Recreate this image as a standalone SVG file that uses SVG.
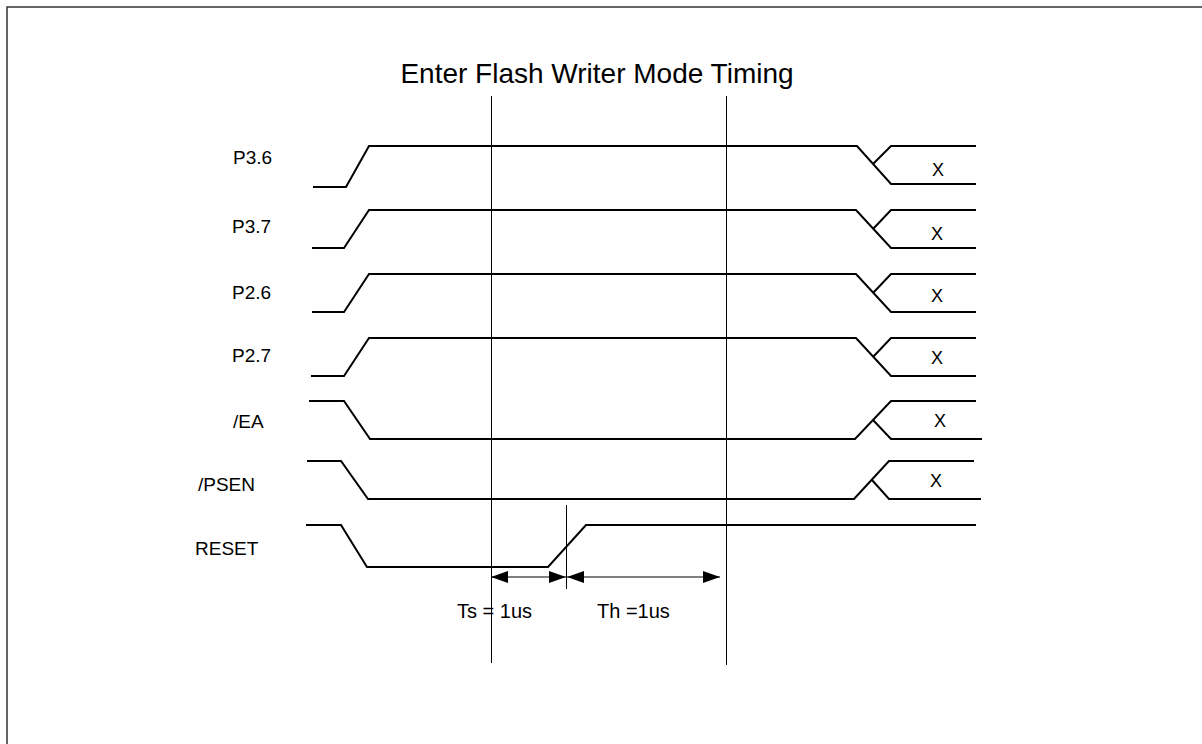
<svg xmlns="http://www.w3.org/2000/svg" width="1202" height="744" viewBox="0 0 1202 744">
<style>
.t{font-family:"Liberation Sans",Arial,sans-serif;fill:#000}
.lbl{font-size:19px}
.tm{font-size:20px}
.x{font-size:18px;text-anchor:middle}
.w{fill:none;stroke:#000;stroke-width:2;stroke-linejoin:miter}
.v{fill:none;stroke:#000;stroke-width:1}
</style>
<defs>
<marker id="ah" viewBox="0 0 17 12" refX="17" refY="6" markerWidth="17" markerHeight="12" markerUnits="userSpaceOnUse" orient="auto-start-reverse">
<path d="M0,0 L17,6 L0,12 Z" fill="#000"/>
</marker>
</defs>
<rect x="7" y="7" width="1200" height="745" fill="#fff" stroke="#333" stroke-width="1.5"/>
<text class="t" x="597" y="83" font-size="28" text-anchor="middle">Enter Flash Writer Mode Timing</text>

<g id="P36">
<text class="t lbl" x="233" y="164">P3.6</text>
<path class="w" d="M313,187 H346 L369,146 H857 L891,184 H976 M873,164 L891,146 H976"/>
<text class="t x" x="938" y="176">X</text>
</g>
<g id="P37">
<text class="t lbl" x="232" y="233">P3.7</text>
<path class="w" d="M312,248 H344 L369,210 H856 L891,248 H976 M873,229 L891,210 H976"/>
<text class="t x" x="937" y="240">X</text>
</g>
<g id="P26">
<text class="t lbl" x="232" y="299">P2.6</text>
<path class="w" d="M312,312 H344 L369,274 H856 L891,312 H976 M873,293 L891,274 H976"/>
<text class="t x" x="937" y="302">X</text>
</g>
<g id="P27">
<text class="t lbl" x="232" y="362">P2.7</text>
<path class="w" d="M311,376 H344 L369,338 H856 L891,376 H976 M873,357 L891,338 H976"/>
<text class="t x" x="937" y="364">X</text>
</g>
<g id="EA">
<text class="t lbl" x="233" y="428">/EA</text>
<path class="w" d="M309,401 H344 L370,439 H855 L891,401 H976 M873,420 L891,439 H982"/>
<text class="t x" x="940" y="427">X</text>
</g>
<g id="PSEN">
<text class="t lbl" x="198" y="491">/PSEN</text>
<path class="w" d="M307,461 H341 L368,499 H854 L889,461 H974 M872,480 L889,499 H981"/>
<text class="t x" x="936" y="487">X</text>
</g>
<g id="RESET">
<text class="t lbl" x="195" y="555">RESET</text>
<path class="w" d="M306,525 H341 L367,567 H548 L586,525 H976"/>
</g>

<g id="connectors">
<line class="v" x1="491.5" y1="96" x2="491.5" y2="663"/>
<line class="v" x1="726.5" y1="96" x2="726.5" y2="665"/>
<line class="v" x1="566.5" y1="505" x2="566.5" y2="589"/>
<line class="v" x1="491" y1="577" x2="566" y2="577" marker-start="url(#ah)" marker-end="url(#ah)"/>
<line class="v" x1="567" y1="577" x2="720" y2="577" marker-start="url(#ah)" marker-end="url(#ah)"/>
</g>
<text class="t tm" x="457" y="618">Ts = 1us</text>
<text class="t tm" x="597" y="618">Th =1us</text>
</svg>
